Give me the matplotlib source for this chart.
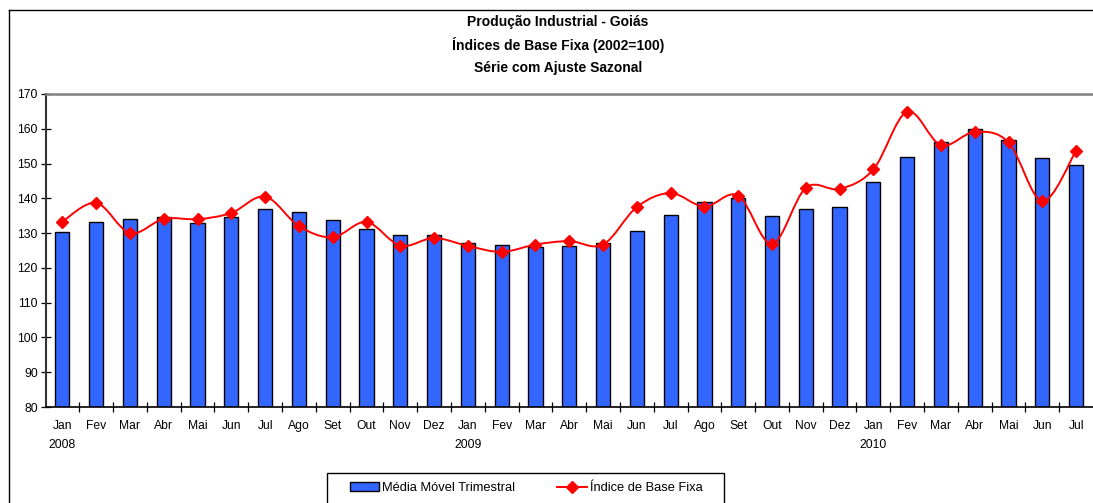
import matplotlib
matplotlib.use("Agg")
import matplotlib.pyplot as plt
from matplotlib.path import Path
from matplotlib.patches import PathPatch, Rectangle
from matplotlib.lines import Line2D
import numpy as np

months = ["Jan", "Fev", "Mar", "Abr", "Mai", "Jun", "Jul", "Ago", "Set", "Out", "Nov", "Dez",
          "Jan", "Fev", "Mar", "Abr", "Mai", "Jun", "Jul", "Ago", "Set", "Out", "Nov", "Dez",
          "Jan", "Fev", "Mar", "Abr", "Mai", "Jun", "Jul"]
years = {0: "2008", 12: "2009", 24: "2010"}

media_movel = [130.2, 133.2, 134.1, 134.5, 132.8, 134.7, 136.8, 136.1, 133.8, 131.3, 129.5, 129.5,
               127.2, 126.5, 125.9, 126.4, 127.1, 130.7, 135.3, 138.9, 140.1, 135.0, 136.9, 137.5,
               144.7, 152.0, 156.3, 159.8, 156.8, 151.5, 149.6]
indice_base = [133.3, 138.7, 130.0, 134.1, 134.0, 135.8, 140.5, 132.0, 128.8, 133.2, 126.4, 128.6,
               126.3, 124.6, 126.7, 127.7, 126.7, 137.5, 141.5, 137.6, 140.8, 126.9, 143.0, 142.7,
               148.3, 164.9, 155.3, 159.1, 156.1, 139.2, 153.7]

title = "Produção Industrial - Goiás\nÍndices de Base Fixa (2002=100)\nSérie com Ajuste Sazonal"
label_bar = "Média Móvel Trimestral"
label_line = "Índice de Base Fixa"

plt.rcParams['font.family'] = ['Liberation Sans', 'DejaVu Sans']

W, H = 1093, 503
fig = plt.figure(figsize=(W / 100, H / 100), dpi=100)
ax = fig.add_axes([45.5 / W, (H - 407) / H, (W - 45.5) / W, 313 / H])

x = np.arange(len(months))
ax.bar(x, media_movel, width=0.42, bottom=0, color="#3366FF", edgecolor="black",
       linewidth=1.0, zorder=2)

# smooth line (Catmull-Rom style Bezier, as in spreadsheet "smoothed line")
pts = np.column_stack([x, indice_base]).astype(float)
verts = [tuple(pts[0])]
codes = [Path.MOVETO]
n = len(pts)
for i in range(n - 1):
    p0 = pts[i - 1] if i > 0 else pts[i]
    p1 = pts[i]
    p2 = pts[i + 1]
    p3 = pts[i + 2] if i + 2 < n else pts[i + 1]
    c1 = p1 + (p2 - p0) / 6.0
    c2 = p2 - (p3 - p1) / 6.0
    verts += [tuple(c1), tuple(c2), tuple(p2)]
    codes += [Path.CURVE4] * 3
ax.add_patch(PathPatch(Path(verts, codes), facecolor="none", edgecolor="#FF0000",
                       linewidth=1.4, zorder=3))
ax.plot(x, indice_base, linestyle="none", marker="D", markersize=6.2,
        color="#FF0000", zorder=4, clip_on=False)

ax.set_xlim(-0.5, len(months) - 0.5)
ax.set_ylim(80, 170)
ax.set_yticks(np.arange(80, 171, 10))
ax.set_xticks(x)
ax.set_xticklabels(months, fontsize=8.7)
ax.set_xticks(np.arange(0.5, len(months) - 0.5, 1), minor=True)
ax.tick_params(axis="x", which="major", length=0, pad=16)
ax.tick_params(axis="x", which="minor", direction="inout", length=7, width=0.9)
ax.tick_params(axis="y", direction="inout", length=7, width=0.9, labelsize=8.7, pad=2)
for lab in ax.get_xticklabels():
    lab.set_verticalalignment("baseline")

for i, yr in years.items():
    ax.annotate(yr, xy=(x[i], 0), xycoords=("data", "axes fraction"),
                xytext=(0, -29.5), textcoords="offset points",
                ha="center", va="baseline", fontsize=8.7)

ax.spines["right"].set_visible(False)
ax.spines["top"].set_color("#808080")
ax.spines["top"].set_linewidth(1.8)
ax.spines["left"].set_color("#333333")
ax.spines["left"].set_linewidth(1.5)
ax.spines["bottom"].set_color("black")
ax.spines["bottom"].set_linewidth(1.2)

fig.text(558 / W, (H - 15) / H, title, ha="center", va="top", fontsize=10,
         fontweight="bold", linespacing=1.65)

# outer chart border
fig.add_artist(Line2D([8.5 / W, 8.5 / W], [0, (H - 9.5) / H], color="black", linewidth=1.0))
fig.add_artist(Line2D([8.5 / W, 1.0], [(H - 9.5) / H, (H - 9.5) / H], color="black", linewidth=1.0))

# legend frame drawn as a box, entries placed inside
fig.add_artist(Rectangle((326.5 / W, -0.01), 397 / W, (H - 472.5) / H + 0.01,
                         transform=fig.transFigure, facecolor="white",
                         edgecolor="black", linewidth=1.0, zorder=5))
handles = [Rectangle((0, 0), 1, 1, facecolor="#3366FF", edgecolor="black", linewidth=1.0),
           Line2D([], [], color="#FF0000", marker="D", markersize=6, linewidth=1.4)]
leg = fig.legend(handles, [label_bar, label_line], loc="center",
                 bbox_to_anchor=(526 / W, (H - 488) / H), ncol=2, fontsize=9.3,
                 frameon=False, handlelength=2.3, handletextpad=0.2, columnspacing=3.3,
                 borderpad=0.3, borderaxespad=0)
leg.set_zorder(6)

fig.savefig("out.png", dpi=100)
